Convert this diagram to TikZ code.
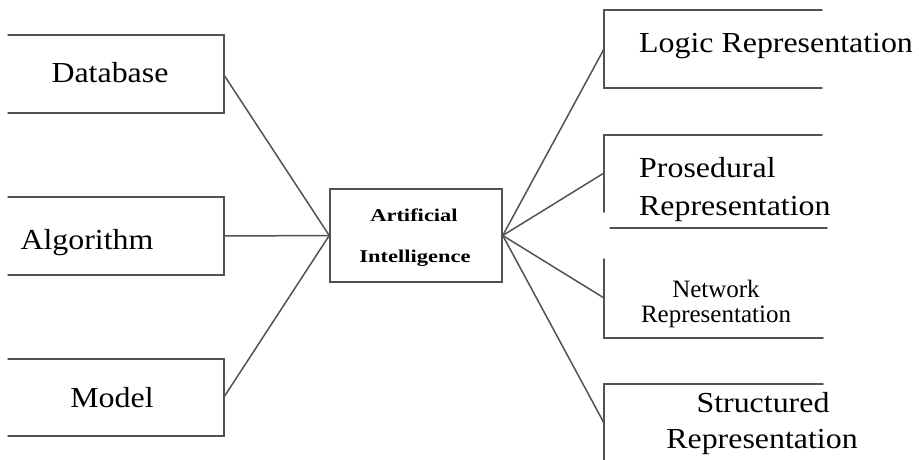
\documentclass[tikz,border=0pt]{standalone}
\usepackage{fontspec}
\setmainfont{Liberation Serif}
\newfontfamily\wideserif[FakeStretch=1.1]{Liberation Serif}
\newfontfamily\aiserif[FakeStretch=1.25]{Liberation Serif}
\begin{document}
\begin{tikzpicture}[x=1pt,y=-1pt,
  edge/.style={draw=black!68, line width=1.5pt, line cap=round, line join=miter},
  lbl/.style={inner sep=0pt, anchor=base, font=\wideserif\fontsize{29}{32}\selectfont},
  rlbl/.style={inner sep=0pt, font=\wideserif\fontsize{29}{32}\selectfont},
  netlbl/.style={inner sep=0pt, anchor=base, font=\fontsize{25}{27}\selectfont},
  aibox/.style={draw=black!68, line width=1.5pt, minimum width=172pt, minimum height=93pt, inner sep=0pt},
  ailbl/.style={inner sep=0pt, anchor=base, font=\aiserif\bfseries\fontsize{18}{21}\selectfont}]
\useasboundingbox (0,0) rectangle (919,460);
% left boxes
\draw[edge] (8,35) -- (224,35) -- (224,113) -- (8,113);
\draw[edge] (8,197) -- (224,197) -- (224,275) -- (8,275);
\draw[edge] (8,359) -- (224,359) -- (224,436) -- (8,436);
\node[lbl] (db) at (110,83) {Database};
\node[lbl] (alg) at (87,249) {Algorithm};
\node[lbl] (mod) at (112,407) {Model};
\coordinate (dbR) at (224,75);
\coordinate (algR) at (224,236);
\coordinate (modR) at (224,397);
% centre box
\node[aibox] (ai) at (416,235.5) {};
\node[ailbl] (ai1) at (414,221) {Artificial};
\node[ailbl] (ai2) at (415,262) {Intelligence};
% right boxes
\draw[edge] (822,10) -- (604,10) -- (604,88) -- (822,88);
\draw[edge] (822,135) -- (604,135) -- (604,212);
\draw[edge] (610,228) -- (827,228);
\draw[edge] (604,259) -- (604,338) -- (823,338);
\draw[edge] (823,384) -- (604,384) -- (604,460);
\coordinate (logL) at (604,49);
\coordinate (proL) at (604,173);
\coordinate (netL) at (604,298);
\coordinate (strL) at (604,423);
\node[rlbl, anchor=base west] (log) at (639,53) {Logic Representation};
\node[rlbl, anchor=base west] (pro1) at (639,177) {Prosedural};
\node[rlbl, anchor=base west] (pro2) at (639,215) {Representation};
\node[netlbl] (net1) at (716,297) {Network};
\node[netlbl] (net2) at (716,322) {Representation};
\node[rlbl, anchor=base] (str1) at (763,412) {Structured};
\node[rlbl, anchor=base] (str2) at (762,448) {Representation};
% connectors
\draw[edge] (dbR) -- (ai.west);
\draw[edge] (algR) -- (ai.west);
\draw[edge] (modR) -- (ai.west);
\draw[edge] (ai.east) -- (logL);
\draw[edge] (ai.east) -- (proL);
\draw[edge] (ai.east) -- (netL);
\draw[edge] (ai.east) -- (strL);
\end{tikzpicture}
\end{document}
